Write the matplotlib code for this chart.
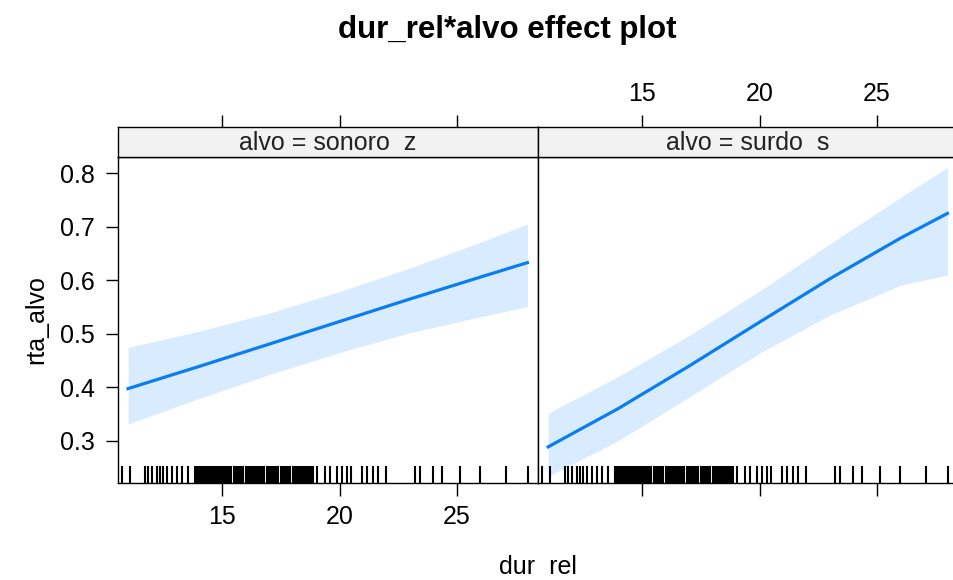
import matplotlib
matplotlib.use("Agg")
import matplotlib.pyplot as plt
import matplotlib.transforms as mtransforms

plt.rcParams['font.family'] = ['Liberation Sans', 'DejaVu Sans']

# ---- data ----
panels = ["alvo = sonoro  z", "alvo = surdo  s"]
x_grid = [11, 14, 17, 20, 23, 26, 28]
fit_sonoro = [0.3975, 0.4386, 0.4806, 0.5229, 0.565, 0.606, 0.633]
upper_sonoro = [0.4745, 0.5046, 0.5386, 0.5789, 0.623, 0.671, 0.705]
lower_sonoro = [0.3315, 0.3786, 0.4236, 0.4649, 0.502, 0.532, 0.551]
fit_surdo = [0.2885, 0.3605, 0.4396, 0.5217, 0.603, 0.6788, 0.725]
upper_surdo = [0.3515, 0.4205, 0.4966, 0.5797, 0.668, 0.7548, 0.811]
lower_surdo = [0.2335, 0.3005, 0.3816, 0.4637, 0.535, 0.5908, 0.610]
rug_values = [10.72, 11.09, 11.72, 11.86, 12.0, 12.22, 12.36, 12.5, 12.65, 12.86,
              13.07, 13.28, 13.57,
              13.85, 13.92, 14.0, 14.08, 14.15, 14.22, 14.3, 14.38, 14.45, 14.55,
              14.62, 14.7, 14.78, 14.85, 14.92, 15.0, 15.08, 15.15, 15.22, 15.3,
              15.38, 15.5, 15.58, 15.65, 15.72, 15.8, 15.9, 16.0, 16.08, 16.15,
              16.22, 16.3, 16.4, 16.5, 16.58, 16.65, 16.72, 16.8, 16.9, 17.0,
              17.08, 17.15, 17.22, 17.3, 17.4, 17.5, 17.58, 17.65, 17.72, 17.8,
              17.9, 18.0, 18.08, 18.15, 18.22, 18.3, 18.4, 18.5, 18.58, 18.65,
              18.72, 18.8, 18.89,
              19.03, 19.38, 19.6, 19.88, 20.09, 20.3, 20.5, 20.94, 21.16, 21.44,
              21.65, 22.0, 23.21, 23.43, 23.99, 24.35, 25.13, 25.98, 27.1, 28.03]
x_ticks = [15, 20, 25]
y_ticks = [0.3, 0.4, 0.5, 0.6, 0.7, 0.8]
y_tick_labels = ["0.3", "0.4", "0.5", "0.6", "0.7", "0.8"]

fits = [fit_sonoro, fit_surdo]
uppers = [upper_sonoro, upper_surdo]
lowers = [lower_sonoro, lower_surdo]

W, H = 954, 580
fig = plt.figure(figsize=(W / 100, H / 100), dpi=100)

LINE_COL = '#0A7DF0'
BAND_COL = '#D9EBFF'
FS = 18
xlim = (10.57, 28.45)
ylim = (0.221, 0.8305)

def fx(px):
    return px / W

def fy(py):
    return 1 - py / H

panel_left = [118, 538]
panel_w = 420
ax_top, ax_bot = 157, 483
strip_top = 127

for i in range(2):
    x0 = panel_left[i]
    ax = fig.add_axes([fx(x0), fy(ax_bot), panel_w / W, (ax_bot - ax_top) / H])
    ax.fill_between(x_grid, lowers[i], uppers[i], color=BAND_COL, lw=0, zorder=1)
    ax.plot(x_grid, fits[i], color=LINE_COL, lw=2.3, zorder=3)
    trans = mtransforms.blended_transform_factory(ax.transData, ax.transAxes)
    ax.vlines(rug_values, 0, 17 / (ax_bot - ax_top), transform=trans,
              color='black', lw=1.5, zorder=4)
    ax.set_xlim(*xlim)
    ax.set_ylim(*ylim)
    for s in ax.spines.values():
        s.set_linewidth(1.0)
        s.set_color('black')
    ax.set_xticks(x_ticks)
    ax.tick_params(axis='x', direction='out', length=9, width=1.0, labelsize=FS,
                   pad=7, top=False, bottom=True, labelbottom=(i == 0))
    if i == 0:
        ax.set_yticks(y_ticks)
        ax.set_yticklabels(y_tick_labels)
        ax.tick_params(axis='y', direction='out', length=9, width=1.0,
                       labelsize=FS, pad=8, left=True, right=False)
        ax.set_ylabel("rta_alvo", fontsize=FS, labelpad=8)
    else:
        ax.set_yticks([])

    # strip
    sx = fig.add_axes([fx(x0), fy(ax_top), panel_w / W, (ax_top - strip_top) / H])
    sx.set_facecolor('#F2F2F2')
    sx.set_xlim(*xlim)
    sx.set_ylim(0, 1)
    sx.set_yticks([])
    sx.set_xticks(x_ticks)
    sx.xaxis.set_ticks_position('top')
    sx.tick_params(axis='x', direction='out', length=9, width=1.0, labelsize=FS,
                   pad=6, top=True, bottom=False, labeltop=(i == 1),
                   labelbottom=False)
    for s in sx.spines.values():
        s.set_linewidth(1.0)
        s.set_color('black')
    sx.text(0.5, 0.45, panels[i], transform=sx.transAxes, ha='center',
            va='center', fontsize=FS, color='#222222')

fig.text(fx(538), fy(567), "dur  rel", ha='center', va='center', fontsize=FS)
fig.text(fx(507), fy(30), "dur_rel*alvo effect plot", ha='center', va='center',
         fontsize=22.5, fontweight='bold')

fig.savefig("out.png", dpi=100)
